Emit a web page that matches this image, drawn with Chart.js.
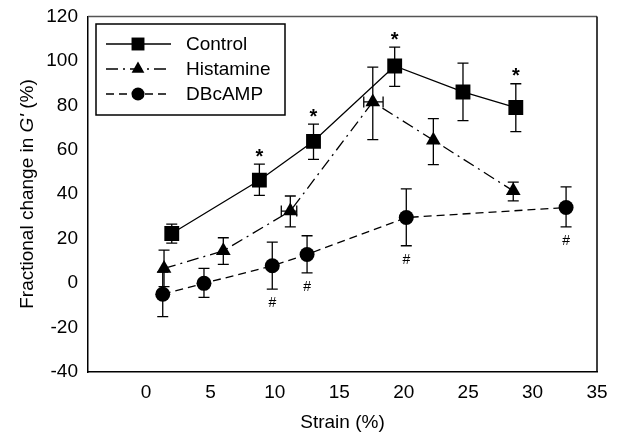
<!DOCTYPE html>
<html lang="en">
<head>
  <meta charset="UTF-8" />
  <title>Fractional change in G' vs strain</title>
  <script src="https://cdn.jsdelivr.net/npm/chart.js"></script>
  <style>
    body { margin: 0; padding: 0; background: #fff; }
    #wrap { width: 618px; height: 434px; }
  </style>
</head>
<body>
  <div id="wrap"><canvas id="chartCanvas" width="618" height="434"></canvas></div>

  <script>
    // values
    const controlX  = [2.0, 8.8, 13.0, 19.3, 24.6, 28.7];
    const controlY  = [22.3, 46.3, 63.8, 97.7, 86.0, 79.0];
    const controlHi = [26.5, 53.5, 71.5, 106.2, 99.0, 89.7];
    const controlLo = [18.0, 39.5, 55.7, 88.5, 73.1, 68.2];

    const histamineX   = [1.4, 6.0, 11.2, 17.6, 22.3, 28.5];
    const histamineY   = [6.6, 14.5, 32.4, 81.5, 64.3, 41.5];
    const histamineHi  = [14.8, 20.4, 39.2, 97.2, 74.0, 45.4];
    const histamineLo  = [-1.6, 8.4, 25.3, 64.6, 53.3, 37.0];
    const histamineXLo = [null, null, 10.5, 16.9, null, null];
    const histamineXHi = [null, null, 11.7, 18.4, null, null];

    const dbcampX  = [1.3, 4.5, 9.8, 12.5, 20.2, 32.6];
    const dbcampY  = [-5.0, -0.1, 7.8, 12.9, 29.5, 34.0];
    const dbcampHi = [5.0, 6.6, 18.4, 21.3, 42.4, 43.3];
    const dbcampLo = [-15.1, -6.4, -2.7, 4.6, 16.8, 25.3];

    const starIdx = [1, 2, 3, 5];   // * on Control
    const hashIdx = [2, 3, 4, 5];   // # on DBcAMP

    const xTicks = [0, 5, 10, 15, 20, 25, 30, 35];
    const yTicks = [-40, -20, 0, 20, 40, 60, 80, 100, 120];

    const FONT = "Arial, 'Liberation Sans', sans-serif";

    const pts = (xs, ys) => xs.map((x, i) => ({ x: x, y: ys[i] }));

    const series = [
      { label: "Control",   x: controlX,   y: controlY,   hi: controlHi,   lo: controlLo,
        style: "rect", radius: 10.5, dash: [] },
      { label: "Histamine", x: histamineX, y: histamineY, hi: histamineHi, lo: histamineLo,
        xlo: histamineXLo, xhi: histamineXHi,
        style: "triangle", radius: 8.5, dash: [12, 5, 2, 5] },
      { label: "DBcAMP",    x: dbcampX,    y: dbcampY,    hi: dbcampHi,    lo: dbcampLo,
        style: "circle", radius: 7.5, dash: [8, 5] }
    ];

    function marker(ctx, style, r, x, y) {
      ctx.beginPath();
      if (style === "rect") {
        const s = Math.SQRT1_2 * r;
        ctx.rect(x - s, y - s, 2 * s, 2 * s);
      } else if (style === "triangle") {
        for (let k = 0; k < 3; k++) {
          const a = k * 2 * Math.PI / 3;
          const px = x + Math.sin(a) * r, py = y - Math.cos(a) * r;
          if (k === 0) ctx.moveTo(px, py); else ctx.lineTo(px, py);
        }
        ctx.closePath();
      } else {
        ctx.arc(x, y, r, 0, Math.PI * 2);
      }
      ctx.fill();
    }

    const extras = {
      id: "extras",
      beforeDatasetsDraw(chart) {
        const ctx = chart.ctx, xs = chart.scales.x, ys = chart.scales.y;
        const cap = 5.5;
        ctx.save();
        ctx.strokeStyle = "#000";
        ctx.lineWidth = 1.3;
        ctx.setLineDash([]);
        series.forEach(s => {
          s.x.forEach((xv, i) => {
            const px = xs.getPixelForValue(xv);
            const pyHi = ys.getPixelForValue(s.hi[i]);
            const pyLo = ys.getPixelForValue(s.lo[i]);
            ctx.beginPath();
            ctx.moveTo(px, pyHi); ctx.lineTo(px, pyLo);
            ctx.moveTo(px - cap, pyHi); ctx.lineTo(px + cap, pyHi);
            ctx.moveTo(px - cap, pyLo); ctx.lineTo(px + cap, pyLo);
            ctx.stroke();
            if (s.xlo && s.xlo[i] !== null) {
              const py = ys.getPixelForValue(s.y[i]);
              const l = xs.getPixelForValue(s.xlo[i]);
              const r = xs.getPixelForValue(s.xhi[i]);
              ctx.beginPath();
              ctx.moveTo(l, py); ctx.lineTo(r, py);
              ctx.moveTo(l, py - cap); ctx.lineTo(l, py + cap);
              ctx.moveTo(r, py - cap); ctx.lineTo(r, py + cap);
              ctx.stroke();
            }
          });
        });
        ctx.restore();
      },
      afterDraw(chart) {
        const ctx = chart.ctx, xs = chart.scales.x, ys = chart.scales.y;
        const a = chart.chartArea;
        ctx.save();
        // frame top (grey) and right
        ctx.lineWidth = 1.5;
        ctx.strokeStyle = "#555";
        ctx.beginPath();
        ctx.moveTo(a.left, a.top); ctx.lineTo(a.right, a.top);
        ctx.stroke();
        ctx.strokeStyle = "#000";
        ctx.beginPath();
        ctx.moveTo(a.right, a.top); ctx.lineTo(a.right, a.bottom);
        ctx.stroke();

        // significance marks
        ctx.fillStyle = "#000";
        ctx.textAlign = "center";
        ctx.textBaseline = "middle";
        ctx.font = "bold 20px " + FONT;
        starIdx.forEach(i => {
          ctx.fillText("*", xs.getPixelForValue(controlX[i]), ys.getPixelForValue(controlHi[i]) - 7);
        });
        ctx.font = "14px " + FONT;
        hashIdx.forEach(i => {
          ctx.fillText("#", xs.getPixelForValue(dbcampX[i]), ys.getPixelForValue(dbcampLo[i]) + 14);
        });

        // legend
        const bx = 96, by = 24, bw = 189, bh = 91;
        ctx.lineWidth = 1.5;
        ctx.strokeRect(bx, by, bw, bh);
        ctx.font = "19px " + FONT;
        ctx.textAlign = "left";
        series.forEach((s, k) => {
          const ry = 44 + k * 25;
          ctx.lineWidth = 1.3;
          ctx.setLineDash(s.dash);
          ctx.beginPath();
          ctx.moveTo(106, ry); ctx.lineTo(171, ry);
          ctx.stroke();
          ctx.setLineDash([]);
          marker(ctx, s.style, s.radius * 0.87, 138, ry);
          ctx.fillText(s.label, 186, ry + 1);
        });

        // y title with italic G'
        ctx.translate(28, 194);
        ctx.rotate(-Math.PI / 2);
        const parts = [
          ["Fractional change in ", "19px " + FONT],
          ["G'", "italic 19px " + FONT],
          [" (%)", "19px " + FONT]
        ];
        let total = 0;
        parts.forEach(p => { ctx.font = p[1]; total += ctx.measureText(p[0]).width; });
        let cx = -total / 2;
        parts.forEach(p => {
          ctx.font = p[1];
          ctx.fillText(p[0], cx, 0);
          cx += ctx.measureText(p[0]).width;
        });
        ctx.restore();
      }
    };

    const datasets = series.map(s => ({
      label: s.label,
      data: pts(s.x, s.y),
      showLine: true,
      borderColor: "#000",
      backgroundColor: "#000",
      borderWidth: 1.3,
      borderDash: s.dash,
      pointStyle: s.style,
      pointRadius: s.radius,
      pointHoverRadius: s.radius,
      pointBorderWidth: 0,
      pointBackgroundColor: "#000",
      tension: 0
    }));

    new Chart(document.getElementById("chartCanvas"), {
      type: "scatter",
      data: { datasets },
      plugins: [extras],
      options: {
        responsive: false,
        animation: false,
        events: [],
        layout: { padding: { top: 16, right: 21, left: 0, bottom: 0 } },
        plugins: { legend: { display: false }, tooltip: { enabled: false } },
        scales: {
          x: {
            type: "linear",
            min: -4.5, max: 35,
            afterBuildTicks: sc => { sc.ticks = xTicks.map(v => ({ value: v })); },
            afterFit: sc => { sc.height = 62; },
            grid: { display: false, drawTicks: true, tickLength: 5, tickColor: "#000" },
            border: { display: true, color: "#000", width: 1.5 },
            ticks: { color: "#000", font: { family: FONT, size: 19 }, padding: 4, maxRotation: 0 },
            title: { display: true, text: "Strain (%)", color: "#000",
                     font: { family: FONT, size: 19 }, padding: { top: 4, bottom: 0 } }
          },
          y: {
            type: "linear",
            min: -40, max: 120,
            afterBuildTicks: sc => { sc.ticks = yTicks.map(v => ({ value: v })); },
            afterFit: sc => { sc.width = 88; },
            grid: { display: false, drawTicks: true, tickLength: 5, tickColor: "#000" },
            border: { display: true, color: "#000", width: 1.5 },
            ticks: { color: "#000", font: { family: FONT, size: 19 }, padding: 5 }
          }
        }
      }
    });
  </script>
</body>
</html>
